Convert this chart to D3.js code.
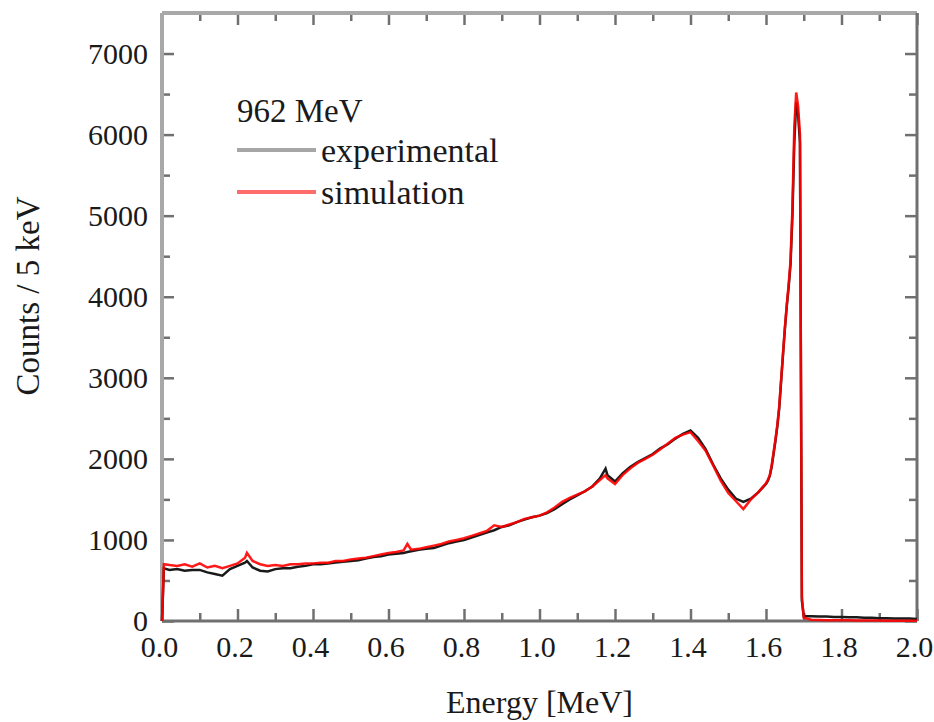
<!DOCTYPE html>
<html>
<head>
<meta charset="utf-8">
<script src="https://cdnjs.cloudflare.com/ajax/libs/d3/7.8.5/d3.min.js"></script>
<style>
  body { margin: 0; background: #fff; }
  text { font-family: "Liberation Serif", "Times New Roman", serif; fill: #1a1a1a; }
</style>
</head>
<body>
<svg width="934" height="722"></svg>
<script>
// energy bins [MeV] (finer near the full-energy peak)
var energy = [
  0, 0.005, 0.02, 0.04, 0.06, 0.08, 0.10, 0.12, 0.14, 0.16, 0.18, 0.20,
  0.22, 0.225, 0.24, 0.26, 0.28, 0.30, 0.32, 0.34, 0.36, 0.38, 0.40,
  0.42, 0.44, 0.46, 0.48, 0.50, 0.52, 0.54, 0.56, 0.58, 0.60, 0.62, 0.64,
  0.65, 0.66, 0.68, 0.70, 0.72, 0.74, 0.76, 0.78, 0.80, 0.82, 0.84, 0.86, 0.88,
  0.90, 0.92, 0.94, 0.96, 0.98, 1.00, 1.02, 1.04, 1.06, 1.08, 1.10, 1.12, 1.14,
  1.16, 1.175, 1.18, 1.20, 1.22, 1.24, 1.26, 1.28, 1.30, 1.32, 1.34, 1.36, 1.38, 1.40,
  1.42, 1.44, 1.46, 1.48, 1.50, 1.52, 1.54, 1.56, 1.58, 1.60,
  1.605, 1.61, 1.615, 1.62, 1.625, 1.63, 1.635, 1.64, 1.645, 1.65,
  1.655, 1.66, 1.665, 1.67, 1.675, 1.68, 1.685, 1.69, 1.695, 1.70,
  1.72, 1.74, 1.76, 1.78, 1.80, 1.82, 1.84, 1.86, 1.88, 1.90, 1.92, 1.94, 1.96, 1.98, 2.00
];

var experimental = [
  0, 650, 630, 640, 620, 630, 630, 600, 580, 560, 640, 680,
  720, 740, 660, 620, 610, 640, 650, 650, 670, 680, 700,
  700, 710, 720, 730, 740, 750, 770, 790, 800, 820, 830, 840,
  850, 860, 880, 890, 900, 930, 960, 980, 1000, 1030, 1060, 1090, 1120,
  1160, 1180, 1220, 1250, 1280, 1300, 1330, 1380, 1440, 1500, 1550, 1600, 1660,
  1760, 1880, 1800, 1720, 1820, 1900, 1960, 2010, 2060, 2130, 2180, 2250, 2310, 2350,
  2260, 2120, 1930, 1760, 1620, 1510, 1470, 1510, 1590, 1690,
  1730, 1790, 1900, 2060, 2220, 2400, 2620, 2950, 3280, 3600,
  3880, 4120, 4400, 5000, 5900, 6400, 6250, 5900, 250, 60,
  60, 55, 55, 50, 50, 45, 45, 40, 40, 35, 35, 30, 30, 30, 25
];

var simulation = [
  0, 700, 690, 680, 700, 670, 710, 660, 680, 650, 680, 710,
  780, 840, 740, 700, 680, 690, 680, 700, 700, 710, 710,
  720, 720, 740, 740, 760, 770, 780, 800, 820, 840, 850, 870,
  950, 880, 890, 910, 930, 950, 980, 1000, 1020, 1050, 1080, 1110, 1180,
  1160, 1190, 1220, 1260, 1280, 1300, 1340, 1400, 1470, 1520, 1560, 1600, 1660,
  1740, 1800, 1760, 1690, 1800, 1880, 1950, 2000, 2050, 2120, 2190, 2260, 2300, 2330,
  2220, 2100, 1920, 1730, 1580, 1480, 1380, 1500, 1590, 1700,
  1740, 1800, 1920, 2080, 2240, 2420, 2650, 2980, 3300, 3620,
  3900, 4150, 4450, 5100, 6100, 6520, 6350, 6000, 300, 40,
  15, 12, 10, 10, 8, 8, 6, 6, 5, 5, 4, 4, 3, 3, 3
];

var xMajor = [0, 0.2, 0.4, 0.6, 0.8, 1.0, 1.2, 1.4, 1.6, 1.8, 2.0];
var xMinor = [0.1, 0.3, 0.5, 0.7, 0.9, 1.1, 1.3, 1.5, 1.7, 1.9];
var yMajor = [0, 1000, 2000, 3000, 4000, 5000, 6000, 7000];
var yMinor = [500, 1500, 2500, 3500, 4500, 5500, 6500, 7500];

var legendTitle = "962 MeV";
var legendItems = [
  {name: "experimental", color: "#a6a6a6"},
  {name: "simulation", color: "#ff6c6c"}
];

var svg = d3.select("svg");
var plotLeft = 162, plotRight = 917, plotTop = 13, plotBottom = 621;

var x = d3.scaleLinear().domain([0, 2]).range([plotLeft, plotRight]);
var y = d3.scaleLinear().domain([0, 7500]).range([plotBottom, plotTop]);

function styleTicks(g) {
    g.select(".domain").remove();
    g.selectAll(".tick line").attr("stroke", "#707070").attr("stroke-width", 2.5);
    g.selectAll("text").style("font-size", "30px").attr("fill", "#1a1a1a");
}

// bottom axis
svg.append("g")
    .attr("transform", "translate(0," + plotBottom + ")")
    .call(d3.axisBottom(x).tickValues(xMajor).tickSizeInner(-12).tickSizeOuter(0)
        .tickPadding(15).tickFormat(d3.format(".1f")))
    .call(styleTicks)
    .selectAll("text").attr("dx", "-3");
svg.append("g")
    .attr("transform", "translate(0," + plotBottom + ")")
    .call(d3.axisBottom(x).tickValues(xMinor).tickSizeInner(-8).tickSizeOuter(0).tickFormat(""))
    .call(styleTicks);

// top axis
svg.append("g")
    .attr("transform", "translate(0," + plotTop + ")")
    .call(d3.axisTop(x).tickValues(xMajor).tickSizeInner(-12).tickSizeOuter(0).tickFormat(""))
    .call(styleTicks);
svg.append("g")
    .attr("transform", "translate(0," + plotTop + ")")
    .call(d3.axisTop(x).tickValues(xMinor).tickSizeInner(-8).tickSizeOuter(0).tickFormat(""))
    .call(styleTicks);

// left axis
svg.append("g")
    .attr("transform", "translate(" + plotLeft + ",0)")
    .call(d3.axisLeft(y).tickValues(yMajor).tickSizeInner(-12).tickSizeOuter(0)
        .tickPadding(14).tickFormat(d3.format("d")))
    .call(styleTicks);
svg.append("g")
    .attr("transform", "translate(" + plotLeft + ",0)")
    .call(d3.axisLeft(y).tickValues(yMinor).tickSizeInner(-8).tickSizeOuter(0).tickFormat(""))
    .call(styleTicks);

// right axis
svg.append("g")
    .attr("transform", "translate(" + plotRight + ",0)")
    .call(d3.axisRight(y).tickValues(yMajor).tickSizeInner(-12).tickSizeOuter(0).tickFormat(""))
    .call(styleTicks);
svg.append("g")
    .attr("transform", "translate(" + plotRight + ",0)")
    .call(d3.axisRight(y).tickValues(yMinor).tickSizeInner(-8).tickSizeOuter(0).tickFormat(""))
    .call(styleTicks);

// frame
svg.append("line").attr("x1", plotLeft).attr("x2", plotRight).attr("y1", plotTop).attr("y2", plotTop)
    .attr("stroke", "#a8a8a8").attr("stroke-width", 4);
svg.append("line").attr("x1", plotLeft).attr("x2", plotLeft).attr("y1", plotTop).attr("y2", plotBottom)
    .attr("stroke", "#a8a8a8").attr("stroke-width", 4);
svg.append("line").attr("x1", plotLeft).attr("x2", plotRight).attr("y1", plotBottom).attr("y2", plotBottom)
    .attr("stroke", "#707070").attr("stroke-width", 3);
svg.append("line").attr("x1", plotRight).attr("x2", plotRight).attr("y1", plotTop).attr("y2", plotBottom)
    .attr("stroke", "#707070").attr("stroke-width", 3);

// spectra
var line = d3.line()
    .x(function(d) { return x(d[0]); })
    .y(function(d) { return y(d[1]); });

svg.append("path")
    .datum(d3.zip(energy, experimental))
    .attr("fill", "none")
    .attr("stroke", "#1a1a1a")
    .attr("stroke-width", 2.5)
    .attr("d", line);

svg.append("path")
    .datum(d3.zip(energy, simulation))
    .attr("fill", "none")
    .attr("stroke", "#ff0000")
    .attr("stroke-width", 2.5)
    .attr("stroke-opacity", 0.9)
    .attr("d", line);

// legend
svg.append("text")
    .attr("x", 237).attr("y", 122)
    .style("font-size", "33px")
    .text(legendTitle);

var leg = svg.selectAll(".legend")
    .data(legendItems)
    .enter().append("g")
        .attr("class", "legend")
        .attr("transform", function(d, i) { return "translate(0," + (150 + i * 42) + ")"; });

leg.append("line")
    .attr("x1", 237).attr("x2", 316)
    .attr("stroke", function(d) { return d.color; })
    .attr("stroke-width", 4);

leg.append("text")
    .attr("x", 321).attr("y", 12)
    .style("font-size", "34px")
    .text(function(d) { return d.name; });

// axis titles
svg.append("text")
    .attr("x", (plotLeft + plotRight) / 2).attr("y", 713)
    .attr("text-anchor", "middle")
    .style("font-size", "32px")
    .text("Energy [MeV]");

svg.append("text")
    .attr("transform", "translate(39," + 296 + ") rotate(-90)")
    .attr("text-anchor", "middle")
    .style("font-size", "33px")
    .text("Counts / 5 keV");
</script>
</body>
</html>
